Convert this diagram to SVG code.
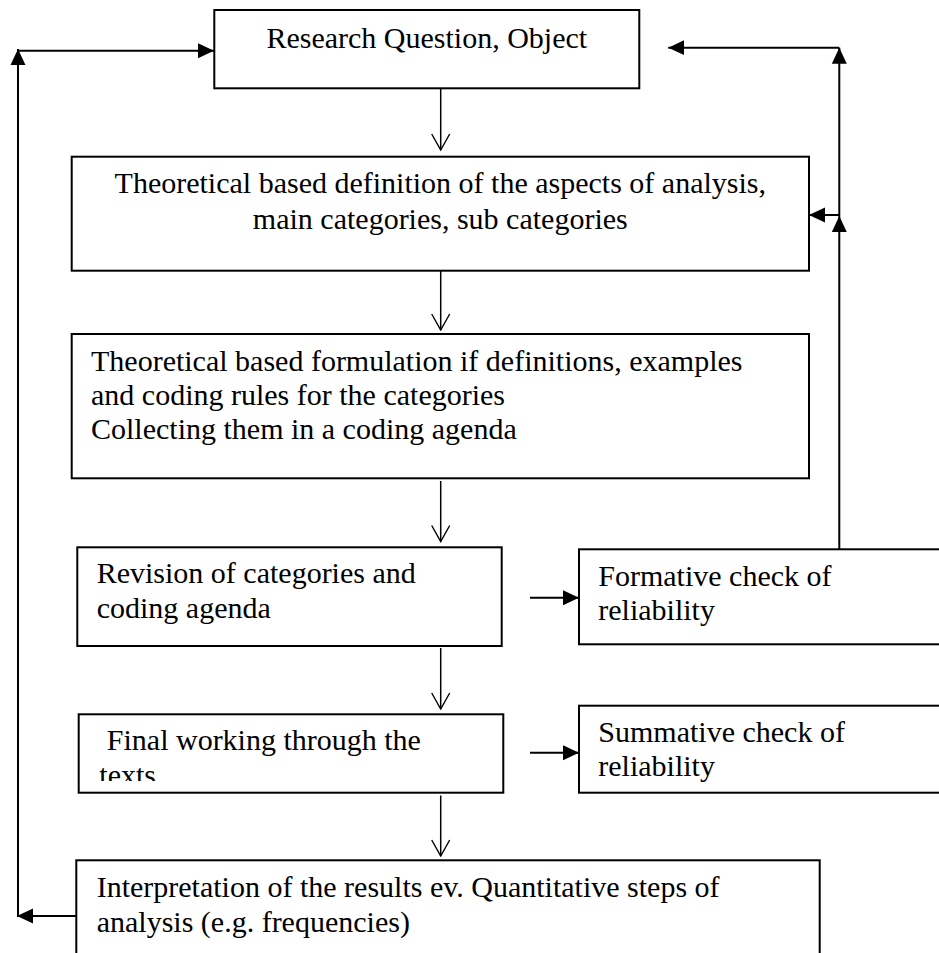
<svg xmlns="http://www.w3.org/2000/svg" width="939" height="953" viewBox="0 0 939 953">
  <style>
    .box { fill: #ffffff; stroke: #000000; stroke-width: 2; }
    .lbl { font-family: "Liberation Serif", "Times New Roman", serif; font-size: 30px; fill: #000000; }
    .mid { text-anchor: middle; }
    .flow { fill: none; stroke: #000000; stroke-width: 1.5; marker-end: url(#open); }
    .fb { fill: none; stroke: #000000; stroke-width: 2; }
    .fbA { marker-end: url(#solid); }
  </style>
  <defs>
    <marker id="open" markerUnits="userSpaceOnUse" markerWidth="18" markerHeight="20" viewBox="-1 -1 18 20" refX="16" refY="9" orient="auto">
      <path d="M0,0 L16,9 L0,18" fill="none" stroke="#000000" stroke-width="1.4"/>
    </marker>
    <marker id="solid" markerUnits="userSpaceOnUse" markerWidth="16" markerHeight="16" viewBox="0 0 15 14" refX="15" refY="7" orient="auto">
      <path d="M0,0 L15,7 L0,14 Z" fill="#000000"/>
    </marker>
    <clipPath id="clip5">
      <rect x="80" y="715" width="422" height="66"/>
    </clipPath>
  </defs>

  <g id="connectors">
    <path class="flow" d="M440.7,88 L440.7,150"/>
    <path class="flow" d="M440.7,271 L440.7,330"/>
    <path class="flow" d="M440.7,481 L440.7,541.5"/>
    <path class="flow" d="M440.7,648 L440.7,709"/>
    <path class="flow" d="M440.7,795.5 L440.7,856"/>
    <path class="fb fbA" d="M530,597.7 L579,597.7"/>
    <path class="fb fbA" d="M530,752.7 L579,752.7"/>
    <path class="fb fbA" d="M839.3,549 L839.3,216"/>
    <path class="fb fbA" d="M839.3,215 L809,215"/>
    <path class="fb fbA" d="M839.3,216 L839.3,47.7"/>
    <path class="fb fbA" d="M839.3,47.7 L668.3,47.7"/>
    <path class="fb fbA" d="M76,916 L17,916"/>
    <path class="fb fbA" d="M18,917 L18,49"/>
    <path class="fb fbA" d="M18,50.7 L214,50.7"/>
  </g>

  <g id="n1">
    <rect class="box" x="214.3" y="10" width="425" height="78.3"/>
    <text class="lbl mid" x="426.8" y="48">Research Question, Object</text>
  </g>

  <g id="n2">
    <rect class="box" x="71.7" y="156.7" width="737.3" height="114"/>
    <text class="lbl mid" x="440.3" y="193.3">Theoretical based definition of the aspects of analysis,</text>
    <text class="lbl mid" x="440.3" y="229.3">main categories, sub categories</text>
  </g>

  <g id="n3">
    <rect class="box" x="71.7" y="334" width="737.3" height="144.3"/>
    <text class="lbl" x="91" y="370.7">Theoretical based formulation if definitions, examples</text>
    <text class="lbl" x="91" y="405">and coding rules for the categories</text>
    <text class="lbl" x="91" y="439">Collecting them in a coding agenda</text>
  </g>

  <g id="n4">
    <rect class="box" x="77.3" y="547.3" width="424.4" height="98.7"/>
    <text class="lbl" x="96.7" y="583.3">Revision of categories and</text>
    <text class="lbl" x="96.7" y="618.3">coding agenda</text>
  </g>

  <g id="n5">
    <rect class="box" x="579" y="549.3" width="370" height="95"/>
    <text class="lbl" x="598.3" y="585.7">Formative check of</text>
    <text class="lbl" x="598.3" y="620">reliability</text>
  </g>

  <g id="n6">
    <rect class="box" x="78.7" y="714.3" width="424.6" height="78.4"/>
    <g clip-path="url(#clip5)">
      <text class="lbl" x="99.3" y="750" xml:space="preserve"> Final working through the</text>
      <text class="lbl" x="99.3" y="785">texts</text>
    </g>
  </g>

  <g id="n7">
    <rect class="box" x="579" y="705.7" width="370" height="87"/>
    <text class="lbl" x="598.3" y="741.7">Summative check of</text>
    <text class="lbl" x="598.3" y="776">reliability</text>
  </g>

  <g id="n8">
    <rect class="box" x="76.3" y="860.3" width="743.4" height="110"/>
    <text class="lbl" x="96.7" y="896.7">Interpretation of the results ev. Quantitative steps of</text>
    <text class="lbl" x="96.7" y="931.7">analysis (e.g. frequencies)</text>
  </g>
</svg>
